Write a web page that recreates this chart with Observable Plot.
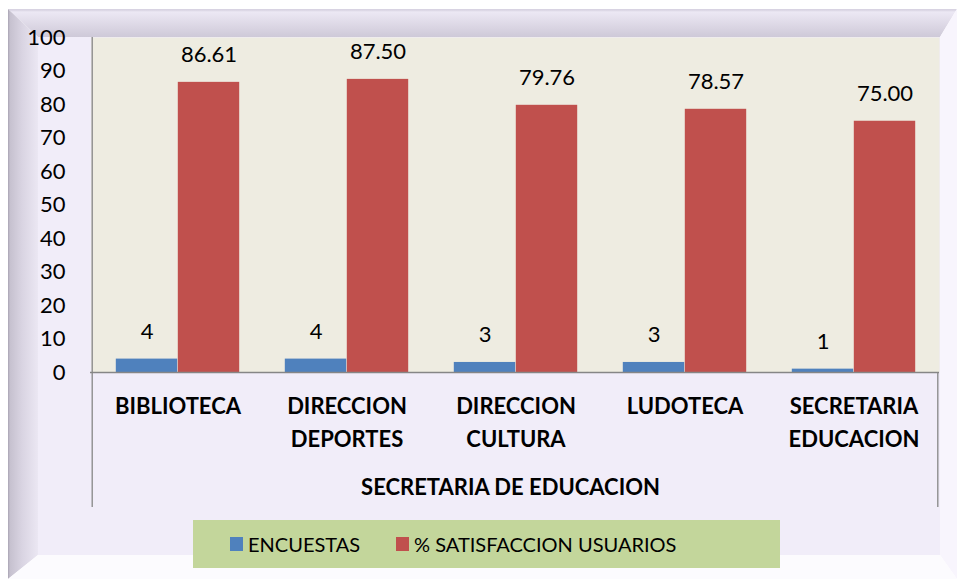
<!DOCTYPE html>
<html>
<head>
<meta charset="utf-8">
<script src="https://cdn.jsdelivr.net/npm/d3@7"></script>
<script src="https://cdn.jsdelivr.net/npm/@observablehq/plot@0.6"></script>
<style>
  html, body { margin: 0; padding: 0; background: #ffffff; }
  #wrap { position: relative; width: 957px; height: 579px; overflow: hidden; font-family: Lato, "Open Sans", sans-serif; }
  .bevel { position: absolute; left: 0; top: 0; width: 957px; height: 579px; }
  #inner { position: absolute; left: 38px; top: 37px; width: 902px; height: 518px; background: #F1EDF9; }
  #chart { position: absolute; left: 0; top: 0; }
  #legend { position: absolute; left: 193px; top: 520px; width: 587px; height: 48px; background: #C3D69B;
            display: flex; align-items: center; padding-left: 37px; box-sizing: border-box; font-size: 20px; color: #000; }
  .item { display: flex; align-items: center; margin-right: 36px; }
  .sw { width: 13px; height: 14px; margin-right: 5px; }
</style>
</head>
<body>
<div id="wrap">
  <div class="bevel" style="clip-path: polygon(8px 9px, 957px 9px, 940px 37px, 38px 37px); background: linear-gradient(to bottom, #D8D3E2 0px, #D8D3E2 10px, #ECE8F4 12px, #D9D4E2 28px, #CEC9D8 37px);"></div>
  <div class="bevel" style="clip-path: polygon(8px 9px, 38px 37px, 38px 555px, 8px 579px); background: linear-gradient(to right, #A9A4B3 8px, #C6C1CF 10px, #D9D4E2 22px, #EBE7F3 38px);"></div>
  <div class="bevel" style="clip-path: polygon(957px 9px, 957px 579px, 940px 555px, 940px 37px); background: #F8F5FD;"></div>
  <div class="bevel" style="clip-path: polygon(8px 579px, 38px 555px, 940px 555px, 957px 579px); background: #FCFBFE;"></div>
  <div id="inner"></div>
  <div id="chart"></div>
  <div id="legend"></div>
</div>
<script>
const categories = ["BIBLIOTECA", "DIRECCION DEPORTES", "DIRECCION CULTURA", "LUDOTECA", "SECRETARIA EDUCACION"];
const categoryLabels = ["BIBLIOTECA", "DIRECCION\nDEPORTES", "DIRECCION\nCULTURA", "LUDOTECA", "SECRETARIA\nEDUCACION"];
const groupLabel = "SECRETARIA DE EDUCACION";
const series = ["ENCUESTAS", "% SATISFACCION USUARIOS"];
const encuestas = [4, 4, 3, 3, 1];
const satisfaccion = [86.61, 87.50, 79.76, 78.57, 75.00];
const seriesColors = ["#4F81BD", "#C0504D"];
const yTicks = [0, 10, 20, 30, 40, 50, 60, 70, 80, 90, 100];

const rows = [];
categories.forEach((c, i) => {
  rows.push({cat: c, series: series[0], value: encuestas[i], label: String(encuestas[i])});
  rows.push({cat: c, series: series[1], value: satisfaccion[i], label: satisfaccion[i].toFixed(2)});
});
const labelOf = new Map(categories.map((c, i) => [c, categoryLabels[i]]));

const W = 957, H = 515, mL = 91, mR = 18, mT = 37, mB = 143;
const bw = (W - mL - mR) / categories.length;
const barW = 62;
const axisColor = "#868686";
const fs = 22;

const enc = rows.filter(d => d.series === series[0]);
const sat = rows.filter(d => d.series === series[1]);

const chart = Plot.plot({
  width: W, height: H,
  marginLeft: mL, marginRight: mR, marginTop: mT, marginBottom: mB,
  style: {background: "transparent", fontFamily: "Lato, 'Open Sans', sans-serif", color: "#000", overflow: "visible"},
  x: {domain: categories, padding: 0, axis: null},
  y: {domain: [0, 100], axis: null},
  color: {domain: series, range: seriesColors},
  marks: [
    Plot.frame({fill: "#EEECE1", stroke: null}),
    Plot.barY(enc, {x: "cat", y: "value", fill: "series", insetLeft: bw / 2 - barW, insetRight: bw / 2}),
    Plot.barY(sat, {x: "cat", y: "value", fill: "series", insetLeft: bw / 2, insetRight: bw / 2 - barW}),
    Plot.text(enc, {x: "cat", y: "value", text: "label", dx: -barW / 2, dy: -27, fontSize: fs, fill: "#000"}),
    Plot.text(sat, {x: "cat", y: "value", text: "label", dx: barW / 2, dy: -27, fontSize: fs, fill: "#000"}),
    Plot.ruleY([0], {stroke: axisColor, strokeWidth: 1.3, insetLeft: -1}),
    Plot.ruleX([categories[0]], {x: d => d, dx: -bw / 2 - 1, stroke: axisColor, strokeWidth: 1.3, insetBottom: -135}),
    Plot.ruleX([categories[categories.length - 1]], {x: d => d, dx: bw / 2 - 1, stroke: axisColor, strokeWidth: 1.3, insetTop: H - mT - mB, insetBottom: -135}),
    Plot.axisY({ticks: yTicks, tickSize: 0, tickPadding: 26, fontSize: fs, fill: "#000", label: null, tickFormat: d => String(d)}),
    Plot.text(categories, {x: d => d, text: d => labelOf.get(d), frameAnchor: "bottom", lineAnchor: "top", dy: 18, lineHeight: 1.5, fontSize: fs, fontWeight: "bold", fill: "#000"}),
    Plot.text([groupLabel], {text: d => d, frameAnchor: "bottom", lineAnchor: "top", dy: 107, dx: -5, fontSize: fs, fontWeight: "bold", fill: "#000"})
  ]
});
document.getElementById("chart").appendChild(chart);

const legend = document.getElementById("legend");
series.forEach((s, i) => {
  const item = document.createElement("div");
  item.className = "item";
  const sw = document.createElement("div");
  sw.className = "sw";
  sw.style.background = seriesColors[i];
  const t = document.createElement("span");
  t.textContent = s;
  item.appendChild(sw);
  item.appendChild(t);
  legend.appendChild(item);
});
</script>
</body>
</html>
